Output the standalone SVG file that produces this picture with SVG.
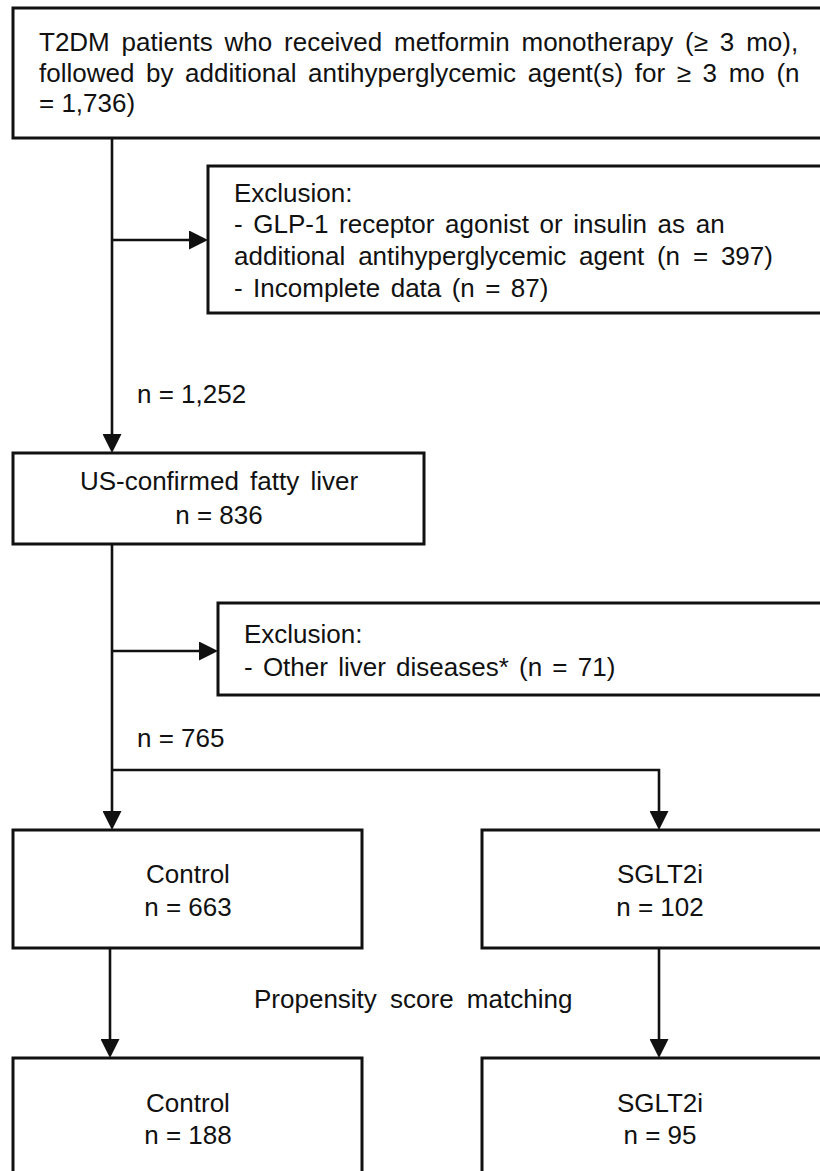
<svg xmlns="http://www.w3.org/2000/svg" width="820" height="1171" viewBox="0 0 820 1171">
<style>
  .box { fill: #ffffff; stroke: #111111; stroke-width: 3; }
  .t { font-family: "Liberation Sans", Arial, sans-serif; font-size: 26px; fill: #111111; }
  .c { text-anchor: middle; }
  .conn { fill: none; stroke: #111111; stroke-width: 2.6; }
</style>
<defs>
  <marker id="arrow" viewBox="0 0 19 19" refX="11" refY="9.5" markerWidth="19" markerHeight="19" markerUnits="userSpaceOnUse" orient="auto">
    <path d="M0,0 L19,9.5 L0,19 z" fill="#111111"/>
  </marker>
</defs>
<rect x="0" y="0" width="820" height="1171" fill="#ffffff"/>

<g id="connectors">
  <path class="conn" d="M112,138 V445" marker-end="url(#arrow)"/>
  <path class="conn" d="M112,240 H200" marker-end="url(#arrow)"/>
  <path class="conn" d="M112,544 V822" marker-end="url(#arrow)"/>
  <path class="conn" d="M112,651 H210" marker-end="url(#arrow)"/>
  <path class="conn" d="M112,770 H659 V822" marker-end="url(#arrow)"/>
  <path class="conn" d="M110,948 V1050" marker-end="url(#arrow)"/>
  <path class="conn" d="M659,948 V1050" marker-end="url(#arrow)"/>
</g>

<g id="start">
  <rect class="box" x="13" y="8" width="830" height="130"/>
  <text class="t" x="39" y="51" word-spacing="4.6">T2DM patients who received metformin monotherapy (≥ 3 mo),</text>
  <text class="t" x="39" y="82" word-spacing="4.4">followed by additional antihyperglycemic agent(s) for ≥ 3 mo (n</text>
  <text class="t" x="39" y="112">= 1,736)</text>
</g>

<g id="exclusion1">
  <rect class="box" x="208" y="166" width="630" height="147"/>
  <text class="t" x="234" y="202">Exclusion:</text>
  <text class="t" x="234" y="233" word-spacing="3.4">- GLP-1 receptor agonist or insulin as an</text>
  <text class="t" x="234" y="265" word-spacing="5.6">additional antihyperglycemic agent (n = 397)</text>
  <text class="t" x="234" y="297" word-spacing="3.2">- Incomplete data (n = 87)</text>
</g>

<g id="label-1252">
  <text class="t" x="137" y="403">n = 1,252</text>
</g>

<g id="fatty-liver">
  <rect class="box" x="13" y="453" width="411" height="91"/>
  <text class="t c" x="219" y="490" word-spacing="4">US-confirmed fatty liver</text>
  <text class="t c" x="219" y="524">n = 836</text>
</g>

<g id="exclusion2">
  <rect class="box" x="218" y="603" width="620" height="92"/>
  <text class="t" x="244" y="643">Exclusion:</text>
  <text class="t" x="244" y="676" word-spacing="3">- Other liver diseases* (n = 71)</text>
</g>

<g id="label-765">
  <text class="t" x="137" y="747">n = 765</text>
</g>

<g id="control-663">
  <rect class="box" x="13" y="830" width="349" height="118"/>
  <text class="t c" x="188" y="883">Control</text>
  <text class="t c" x="188" y="916">n = 663</text>
</g>

<g id="sglt2i-102">
  <rect class="box" x="482" y="830" width="356" height="118"/>
  <text class="t c" x="660" y="883">SGLT2i</text>
  <text class="t c" x="660" y="916">n = 102</text>
</g>

<g id="label-psm">
  <text class="t" x="254" y="1008" word-spacing="6">Propensity score matching</text>
</g>

<g id="control-188">
  <rect class="box" x="13" y="1058" width="349" height="130"/>
  <text class="t c" x="188" y="1112">Control</text>
  <text class="t c" x="188" y="1144">n = 188</text>
</g>

<g id="sglt2i-95">
  <rect class="box" x="482" y="1058" width="356" height="130"/>
  <text class="t c" x="660" y="1112">SGLT2i</text>
  <text class="t c" x="660" y="1144">n = 95</text>
</g>
</svg>
